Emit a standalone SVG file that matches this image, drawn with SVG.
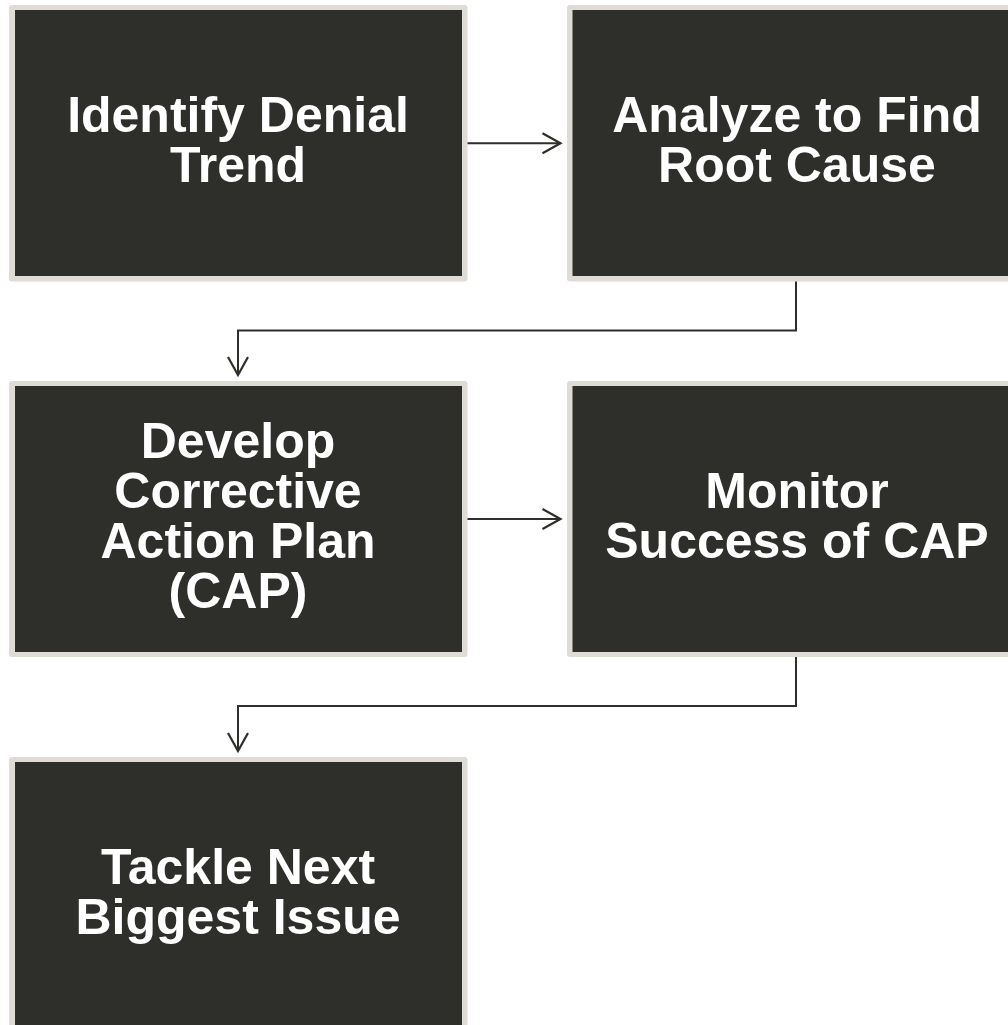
<svg xmlns="http://www.w3.org/2000/svg" width="1008" height="1025" viewBox="0 0 1008 1025">
  <style>
    .frame { fill: #dedcd5; }
    .body { fill: #2e2f2a; }
    .label { fill: #ffffff; font-family: "Liberation Sans", Arial, sans-serif; font-weight: bold; font-size: 50px; text-anchor: middle; }
    .conn { fill: none; stroke: #2e2f2a; stroke-width: 2; }
  </style>
  <defs>
    <marker id="arrow" markerUnits="userSpaceOnUse" markerWidth="24" markerHeight="24" viewBox="-20 -12 22 24" refX="0" refY="0" orient="auto">
      <path d="M -18 -10 L 0 0 L -18 10" fill="none" stroke="#2e2f2a" stroke-width="2.2"/>
    </marker>
  </defs>
  <rect width="1008" height="1025" fill="#ffffff"/>

  <g id="node1">
    <rect class="frame" x="9" y="5" width="458.5" height="276.5" rx="3"/>
    <rect class="body" x="15" y="10" width="447" height="266"/>
    <text class="label" x="238" y="132">Identify Denial</text>
    <text class="label" x="238" y="182">Trend</text>
  </g>
  <g id="node2">
    <rect class="frame" x="567" y="5" width="458.5" height="276.5" rx="3"/>
    <rect class="body" x="572.5" y="10" width="447" height="266"/>
    <text class="label" x="797" y="132">Analyze to Find</text>
    <text class="label" x="797" y="182">Root Cause</text>
  </g>
  <g id="node3">
    <rect class="frame" x="9" y="381" width="458.5" height="276" rx="3"/>
    <rect class="body" x="15" y="386" width="447" height="266"/>
    <text class="label" x="238" y="457.5">Develop</text>
    <text class="label" x="238" y="507.5">Corrective</text>
    <text class="label" x="238" y="557.5">Action Plan</text>
    <text class="label" x="238" y="607.5">(CAP)</text>
  </g>
  <g id="node4">
    <rect class="frame" x="567" y="381" width="458.5" height="276" rx="3"/>
    <rect class="body" x="572.5" y="386" width="447" height="266"/>
    <text class="label" x="797" y="507.5">Monitor</text>
    <text class="label" x="797" y="557.5">Success of CAP</text>
  </g>
  <g id="node5">
    <rect class="frame" x="9" y="757" width="458.5" height="276" rx="3"/>
    <rect class="body" x="15" y="762" width="447" height="266"/>
    <text class="label" x="238" y="883.5">Tackle Next</text>
    <text class="label" x="238" y="933.5">Biggest Issue</text>
  </g>

  <g id="connectors">
    <path class="conn" d="M 467.5 143.3 H 560.5" marker-end="url(#arrow)"/>
    <path class="conn" d="M 796 281.5 V 330.5 H 238 V 375" marker-end="url(#arrow)"/>
    <path class="conn" d="M 467.5 519 H 560.5" marker-end="url(#arrow)"/>
    <path class="conn" d="M 796 657 V 706 H 238 V 751" marker-end="url(#arrow)"/>
  </g>
</svg>
